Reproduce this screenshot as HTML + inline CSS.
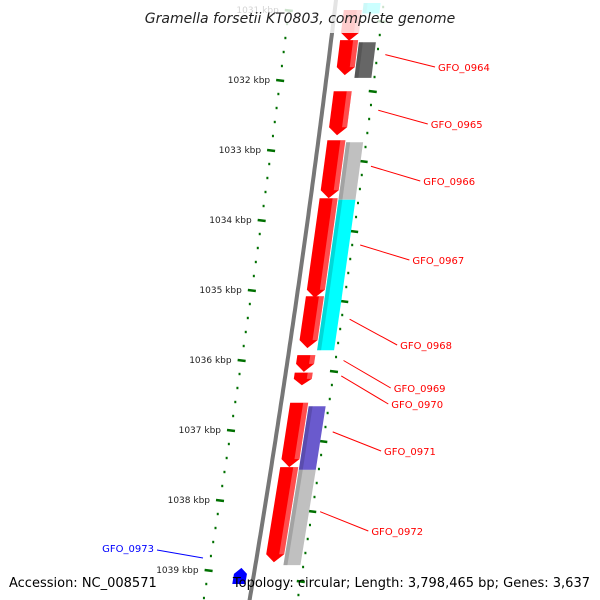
<!DOCTYPE html>
<html><head><meta charset="utf-8"><style>
body{margin:0;background:#fff}
svg{display:block;font-family:"DejaVu Sans","Liberation Sans",sans-serif}
</style></head><body>
<svg id="c" width="600" height="600" viewBox="0 0 600 600">
<defs>
<linearGradient id="axg" x1="0" x2="1"><stop offset="0" stop-color="#555"/><stop offset="0.5" stop-color="#888"/><stop offset="1" stop-color="#ccc"/></linearGradient>
</defs>
<g id="ticks"></g>
<path id="axis" fill="none" stroke="#777" stroke-width="4"/>
<g id="feats"></g>
<g id="labels"></g>
<rect x="0" y="0" width="600" height="33" fill="#fff" opacity="0.8"/>
<text x="300" y="23" text-anchor="middle" font-style="italic" font-size="14" fill="#222">Gramella forsetii KT0803, complete genome</text>
<text x="9" y="587" font-size="13" fill="#000">Accession: NC_008571</text>
<text x="590" y="587" text-anchor="end" font-size="13" fill="#000">Topology: circular; Length: 3,798,465 bp; Genes: 3,637</text>
</svg>
<script>
// data (kbp)
const tickLabels = [1031,1032,1033,1034,1035,1036,1037,1038,1039];
const geneNames = ["GFO_0963","GFO_0964","GFO_0965","GFO_0966","GFO_0967","GFO_0968","GFO_0969","GFO_0970","GFO_0971","GFO_0972"];
const geneStart = [1031.0,1031.43,1032.16,1032.86,1033.69,1035.09,1035.93,1036.18,1036.61,1037.53];
const geneEnd   = [1031.44,1031.93,1032.79,1033.69,1035.11,1035.83,1036.17,1036.36,1037.53,1038.89];
const secColor  = ["#00ffff","#666666",null,"#c0c0c0","#00ffff","#00ffff",null,null,"#6a5acd","#c0c0c0"];
const secStart  = [1030.9,1031.46,null,1032.89,1033.71,1035.11,null,null,1036.66,1037.57];
const secEnd    = [1031.05,1031.97,null,1033.71,1035.14,1035.86,null,null,1037.57,1038.93];
const labelY    = [null,65,122,179,258,343,386,402,449,529];
const revName = "GFO_0973", revStart = 1038.97, revEnd = 1039.2;

const NS="http://www.w3.org/2000/svg";
const Y = k => 80 + (k - 1032) * 70;
const AX = y => 336 - 0.12*y - 0.00004*y*y;
function el(tag, attrs, parent){const e=document.createElementNS(NS,tag);for(const k in attrs)e.setAttribute(k,attrs[k]);parent.appendChild(e);return e;}

// axis
let d="";for(let y=-5;y<=605;y+=5)d+=(y===-5?"M":"L")+AX(y).toFixed(1)+" "+y;
document.getElementById('axis').setAttribute('d',d);

// ruler ticks
const tg=document.getElementById('ticks');
for(let k=1030.8;k<=1039.6;k+=0.2){
  const kk=Math.round(k*10)/10;
  const major=Math.abs(kk-Math.round(kk))<0.01;
  const y=Y(kk);
  let l=el('line',{x1:AX(y)-46-(major?4:1),y1:y,x2:AX(y)-46+(major?4:1),y2:y+(major?1:0),stroke:'#007000','stroke-width':2.4},tg);
  
  
  const y2=y+11;
  let r=el('line',{x1:AX(y2)+48-(major?4:1),y1:y2,x2:AX(y2)+48+(major?4:1),y2:y2+(major?1:0),stroke:'#007000','stroke-width':2.4},tg);
  
  
}
tickLabels.forEach(k=>{
  const y=Y(k);
  const t=el('text',{x:AX(y)-56,y:y+3,'text-anchor':'end','font-size':9,fill:'#222'},tg);
  t.textContent=k+" kbp";
  
  
});

// features
const fg=document.getElementById('feats');
function arrowDown(k1,k2,o1,o2,color,name){
  const y1=Y(k1),y2=Y(k2),h=Math.min(8,(y2-y1)*0.5);
  const p=[[AX(y1)+o1,y1],[AX(y1)+o2,y1],[AX(y2-h)+o2,y2-h],[AX(y2)+(o1+o2)/2,y2],[AX(y2-h)+o1,y2-h]];
  const g=el('polygon',{points:p.map(q=>q.join(',')).join(' '),fill:color},fg);
  
  
  const s=el('polygon',{points:[[AX(y1)+o2-5,y1],[AX(y1)+o2,y1],[AX(y2-h)+o2,y2-h],[AX(y2-h)+o2-5,y2-h]].map(q=>q.join(',')).join(' '),fill:'#fff',opacity:0.3},fg);
  
  
}
function box(k1,k2,o1,o2,color,name){
  const y1=Y(k1),y2=Y(k2);
  const p=[[AX(y1)+o1,y1],[AX(y1)+o2,y1],[AX(y2)+o2,y2],[AX(y2)+o1,y2]];
  const g=el('polygon',{points:p.map(q=>q.join(',')).join(' '),fill:color},fg);
  
  
  const s=el('polygon',{points:[[AX(y1)+o1,y1],[AX(y1)+o1+4,y1],[AX(y2)+o1+4,y2],[AX(y2)+o1,y2]].map(q=>q.join(',')).join(' '),fill:'#000',opacity:0.15},fg);
  
  
}
const lg=document.getElementById('labels');
geneNames.forEach((n,i)=>{
  arrowDown(geneStart[i],geneEnd[i],9,27,'#ff0000',n.toLowerCase()+'-cds');
  if(secColor[i]) box(secStart[i],secEnd[i],28,45,secColor[i],n.toLowerCase()+'-product');
  if(labelY[i]!=null){
    const ym=(Y(geneStart[i])+Y(geneEnd[i]))/2-3;
    const x0=AX(ym)+56;
    const ly=labelY[i];
    const lx=AX(ly)+110;
    const ln=el('line',{x1:x0,y1:ym,x2:lx-3,y2:ly+2,stroke:'#ff0000','stroke-width':1},lg);
    
    
    const t=el('text',{x:lx,y:ly+6,'font-size':10,fill:'#ff0000'},lg);
    t.textContent=n;
    
    
  }
});
// reverse-strand gene (points up)
(function(){
  const y1=Y(revStart),y2=Y(revEnd),h=6,o1=-20,o2=-7;
  const p=[[AX(y1)+(o1+o2)/2,y1],[AX(y1+h)+o2,y1+h],[AX(y2)+o2,y2],[AX(y2)+o1,y2],[AX(y1+h)+o1,y1+h]];
  const g=el('polygon',{points:p.map(q=>q.join(',')).join(' '),fill:'#0000ff'},fg);
  
  
  const ln=el('line',{x1:157,y1:550,x2:203,y2:558,stroke:'#0000ff','stroke-width':1},lg);
  
  
  const t=el('text',{x:154,y:552,'text-anchor':'end','font-size':10,fill:'#0000ff'},lg);
  t.textContent=revName;
  
  
})();
</script>
</body></html>
